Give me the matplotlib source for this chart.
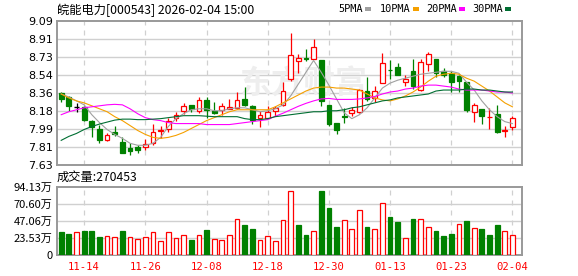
import numpy as np
import matplotlib
matplotlib.use("Agg")
import matplotlib.pyplot as plt
from matplotlib.patches import Rectangle

plt.rcParams['font.family'] = ['Noto Sans CJK SC', 'DejaVu Sans']

# trading days
dates = (['11-11', '11-12', '11-13', '11-14', '11-17', '11-18', '11-19', '11-20', '11-21',
          '11-24', '11-25', '11-26', '11-27', '11-28', '12-01', '12-02', '12-03', '12-04',
          '12-05', '12-08', '12-09', '12-10', '12-11', '12-12', '12-15', '12-16', '12-17',
          '12-18', '12-19', '12-22', '12-23', '12-24', '12-25', '12-26', '12-29', '12-30',
          '12-31', '01-05', '01-06', '01-07', '01-08', '01-09', '01-12', '01-13', '01-14',
          '01-15', '01-16', '01-19', '01-20', '01-21', '01-22', '01-23', '01-26', '01-27',
          '01-28', '01-29', '01-30', '02-02', '02-03', '02-04'])
label_dates = ['11-14', '11-26', '12-08', '12-18', '12-30', '01-13', '01-23', '02-04']

opens = [8.357, 8.316, 8.214, 8.214, 8.072, 7.997, 7.885, 7.960, 7.868, 7.800,
         7.813, 7.810, 7.858, 7.970, 7.994, 8.106, 8.174, 8.235, 8.180, 8.292,
         8.174, 8.184, 8.197, 8.207, 8.299, 8.231, 8.106, 8.106, 8.174, 8.235,
         8.503, 8.683, 8.717, 8.700, 8.693, 8.235, 8.055, 8.123, 8.153, 8.167,
         8.384, 8.309, 8.462, 8.598, 8.622, 8.469, 8.588, 8.394, 8.649, 8.706,
         8.581, 8.564, 8.537, 8.472, 8.163, 8.197, 8.113, 8.146, 7.978, 8.011]
highs = [8.370, 8.326, 8.258, 8.231, 8.089, 8.031, 7.953, 8.021, 7.909, 7.851,
         7.834, 7.895, 8.044, 8.021, 8.106, 8.164, 8.258, 8.235, 8.319, 8.316,
         8.265, 8.258, 8.302, 8.370, 8.418, 8.241, 8.180, 8.224, 8.224, 8.472,
         8.971, 8.751, 8.808, 8.903, 8.693, 8.235, 8.055, 8.207, 8.214, 8.400,
         8.520, 8.428, 8.768, 8.693, 8.666, 8.540, 8.706, 8.700, 8.778, 8.706,
         8.615, 8.581, 8.540, 8.472, 8.258, 8.197, 8.207, 8.235, 8.021, 8.123]
lows = [8.265, 8.180, 8.163, 8.078, 7.909, 7.858, 7.875, 7.929, 7.749, 7.732,
        7.749, 7.783, 7.834, 7.902, 7.963, 8.075, 8.150, 8.167, 8.157, 8.106,
        8.143, 8.133, 8.197, 8.200, 8.225, 8.044, 8.011, 8.106, 8.130, 8.225,
        8.486, 8.564, 8.683, 8.700, 8.224, 8.028, 7.943, 8.055, 8.129, 8.160,
        8.282, 8.265, 8.460, 8.503, 8.540, 8.435, 8.405, 8.377, 8.588, 8.527,
        8.520, 8.370, 8.370, 8.163, 8.061, 8.048, 7.997, 7.953, 7.912, 7.987]
closes = [8.296, 8.231, 8.214, 8.089, 8.011, 7.885, 7.936, 7.943, 7.756, 7.773,
          7.783, 7.841, 7.963, 7.980, 8.078, 8.140, 8.224, 8.201, 8.285, 8.190,
          8.157, 8.224, 8.214, 8.292, 8.235, 8.089, 8.140, 8.163, 8.207, 8.377,
          8.744, 8.710, 8.707, 8.825, 8.282, 8.048, 7.980, 8.116, 8.184, 8.394,
          8.299, 8.377, 8.666, 8.590, 8.547, 8.503, 8.428, 8.676, 8.757, 8.564,
          8.547, 8.472, 8.479, 8.190, 8.235, 8.129, 8.117, 7.960, 7.982, 8.106]

ma5 = [8.35, 8.32, 8.28, 8.24, 8.14, 8.06, 7.99, 7.94, 7.90, 7.85,
       7.83, 7.83, 7.85, 7.91, 8.02, 8.10, 8.15, 8.19, 8.20, 8.20,
       8.18, 8.18, 8.20, 8.21, 8.21, 8.19, 8.17, 8.18, 8.20, 8.24,
       8.33, 8.45, 8.57, 8.69, 8.57, 8.44, 8.30, 8.16, 8.10, 8.14,
       8.21, 8.31, 8.41, 8.46, 8.49, 8.51, 8.53, 8.55, 8.56, 8.57,
       8.58, 8.58, 8.56, 8.47, 8.39, 8.28, 8.19, 8.12, 8.07, 8.05]
ma10 = [8.35, 8.31, 8.28, 8.26, 8.23, 8.20, 8.17, 8.12, 8.08, 8.03,
        7.98, 7.94, 7.91, 7.90, 7.91, 7.93, 7.96, 8.00, 8.04, 8.08,
        8.11, 8.14, 8.17, 8.19, 8.19, 8.19, 8.19, 8.19, 8.22, 8.26,
        8.30, 8.34, 8.38, 8.41, 8.42, 8.42, 8.41, 8.41, 8.40, 8.39,
        8.35, 8.31, 8.29, 8.28, 8.30, 8.33, 8.37, 8.42, 8.48, 8.53,
        8.55, 8.56, 8.55, 8.51, 8.48, 8.43, 8.38, 8.32, 8.26, 8.22]
ma20 = [8.14, 8.17, 8.19, 8.21, 8.22, 8.23, 8.24, 8.245, 8.24, 8.20,
        8.15, 8.11, 8.09, 8.08, 8.06, 8.05, 8.05, 8.05, 8.05, 8.04,
        8.04, 8.04, 8.04, 8.05, 8.06, 8.07, 8.08, 8.09, 8.125, 8.155,
        8.19, 8.225, 8.255, 8.28, 8.30, 8.305, 8.295, 8.295, 8.295, 8.30,
        8.31, 8.325, 8.35, 8.37, 8.38, 8.40, 8.41, 8.43, 8.44, 8.44,
        8.43, 8.42, 8.40, 8.39, 8.39, 8.39, 8.38, 8.37, 8.37, 8.36]
ma30 = [7.88, 7.92, 7.95, 7.99, 8.02, 8.045, 8.065, 8.085, 8.095, 8.095,
        8.09, 8.09, 8.095, 8.10, 8.11, 8.12, 8.13, 8.13, 8.13, 8.125,
        8.12, 8.12, 8.12, 8.12, 8.10, 8.09, 8.09, 8.10, 8.12, 8.13,
        8.14, 8.15, 8.16, 8.17, 8.17, 8.18, 8.18, 8.19, 8.21, 8.22,
        8.24, 8.26, 8.28, 8.29, 8.31, 8.32, 8.33, 8.34, 8.35, 8.38,
        8.39, 8.39, 8.39, 8.40, 8.40, 8.39, 8.39, 8.38, 8.37, 8.37]

# volume in 万手, and whether the bar is drawn red (1) or green (0)
volume = [32.3, 29.1, 31.8, 33.2, 33.2, 24.9, 25.8, 24.9, 33.2, 24.5,
          21.7, 24.5, 31.8, 19.4, 31.8, 23.1, 27.2, 20.8, 27.2, 34.6,
          21.7, 20.3, 27.2, 49.4, 41.5, 36.0, 20.3, 25.8, 19.4, 48.0,
          88.1, 41.5, 27.7, 33.2, 88.6, 65.1, 38.8, 48.0, 35.5, 61.8,
          38.8, 35.5, 71.5, 52.6, 45.7, 23.1, 49.8, 49.4, 38.3, 33.2,
          26.3, 29.1, 42.5, 47.1, 36.9, 36.0, 27.7, 41.5, 33.2, 27.05]
vol_up = [0, 0, 1, 0, 0, 0, 1, 1, 0, 1, 1, 1, 1, 1, 1, 1, 1, 0, 1, 0,
          1, 1, 1, 1, 0, 0, 1, 1, 1, 1, 1, 0, 0, 1, 0, 0, 0, 1, 1, 1,
          0, 1, 1, 0, 0, 1, 0, 1, 1, 0, 0, 0, 1, 0, 1, 0, 0, 0, 1, 1]

price_labels = ['9.09', '8.91', '8.73', '8.54', '8.36', '8.18', '7.99', '7.81', '7.63']
vol_labels = ['0', '23.53万', '47.06万', '70.60万', '94.13万']
title = '皖能电力[000543] 2026-02-04 15:00'
last_vol = '成交量:270453'

RED = '#ff0000'
GREEN = '#008000'
GRID = '#d0d0d0'
FRAME = '#999999'
ma_colors = ['#a0a0a0', '#f5a000', '#ff00ff', '#006e32']
ma_names = ['5PMA', '10PMA', '20PMA', '30PMA']

W, H = 578, 276
fig = plt.figure(figsize=(W / 100, H / 100), dpi=100)
fig.patch.set_facecolor('white')

ax = fig.add_axes([57 / W, 1 - 165 / H, 465 / W, 144 / H])
axv = fig.add_axes([57 / W, 1 - 255 / H, 465 / W, 68 / H])

x = np.arange(len(dates))
o = np.array(opens); c = np.array(closes)
hi = np.array(highs); lo = np.array(lows)
label_pos = [dates.index(d) for d in label_dates]

pmin, pmax = 7.63, 9.09
vmax = 94.13

for a in (ax, axv):
    a.set_xlim(-0.55, len(dates) + 0.25)
    for s in a.spines.values():
        s.set_color(FRAME)
        s.set_linewidth(1.4)
    a.tick_params(length=0, pad=3, labelsize=8, colors='#000000')
    for p in label_pos:
        a.axvline(p, color=GRID, lw=0.9, ls=(0, (4, 4)), zorder=0)

# price panel
ax.set_ylim(pmin, pmax)
pt = np.linspace(pmax, pmin, len(price_labels))
ax.set_yticks(pt)
ax.set_yticklabels(price_labels, family='DejaVu Sans')
for v in pt[1:-1]:
    ax.axhline(v, color=GRID, lw=1.0, zorder=0)
ax.set_xticks([])

# faint site watermark
ax.text(0.53, 0.56, '东方财富', transform=ax.transAxes, fontsize=23,
        color='#eeeeee', ha='center', va='center', zorder=0, fontweight='bold')

up = c > o
down = c < o
flat = c == o
wick_col = np.where(up, RED, np.where(down, GREEN, 'black'))
ax.vlines(x, lo, hi, colors=wick_col, lw=0.9, zorder=2)
bw = 0.62
body_h = np.maximum(np.abs(c - o), 0.002)
ax.bar(x[up], body_h[up], bottom=o[up], width=bw, facecolor='white',
       edgecolor=RED, lw=0.9, zorder=3)
ax.bar(x[down], body_h[down], bottom=c[down], width=bw, facecolor=GREEN,
       edgecolor=GREEN, lw=0.9, zorder=3)
ax.hlines(o[flat], x[flat] - bw / 2, x[flat] + bw / 2, colors='black', lw=1.0, zorder=3)

for ma, col in zip([ma5, ma10, ma20, ma30], ma_colors):
    ax.plot(x, ma, color=col, lw=0.8, zorder=4)

# volume panel
axv.set_ylim(0, vmax)
vt = np.linspace(0, vmax, len(vol_labels))
axv.set_yticks(vt)
axv.set_yticklabels(vol_labels)
for v in vt[1:-1]:
    axv.axhline(v, color=GRID, lw=1.0, zorder=0)
vol = np.array(volume)
vu = np.array(vol_up) == 1
axv.bar(x[vu], vol[vu], width=bw, facecolor='white', edgecolor=RED, lw=0.9, zorder=3)
axv.bar(x[~vu], vol[~vu], width=bw, facecolor=GREEN, edgecolor=GREEN, lw=0.9, zorder=3)
axv.set_xticks(label_pos)
axv.set_xticklabels(label_dates, family='DejaVu Sans Mono', fontsize=7.6, color=RED)
axv.tick_params(axis='x', pad=5)

# header texts
fig.text(57 / W, 1 - 10 / H, title, fontsize=8.8, va='center', ha='left')
fig.text(57 / W, 1 - 177 / H, last_vol, fontsize=8.8, va='center', ha='left')

lx = [338, 380, 426, 472]
sx = [365, 413, 459, 505]
for name, col, tx, qx in zip(ma_names, ma_colors, lx, sx):
    fig.text(tx / W, 1 - 9 / H, name, fontsize=7.4, family='DejaVu Sans Mono',
             va='center', ha='left')
    fig.patches.append(Rectangle((qx / W, 1 - 11 / H), 6 / W, 4 / H,
                                 transform=fig.transFigure, color=col, lw=0))

fig.savefig('out.png', dpi=100, facecolor='white')
